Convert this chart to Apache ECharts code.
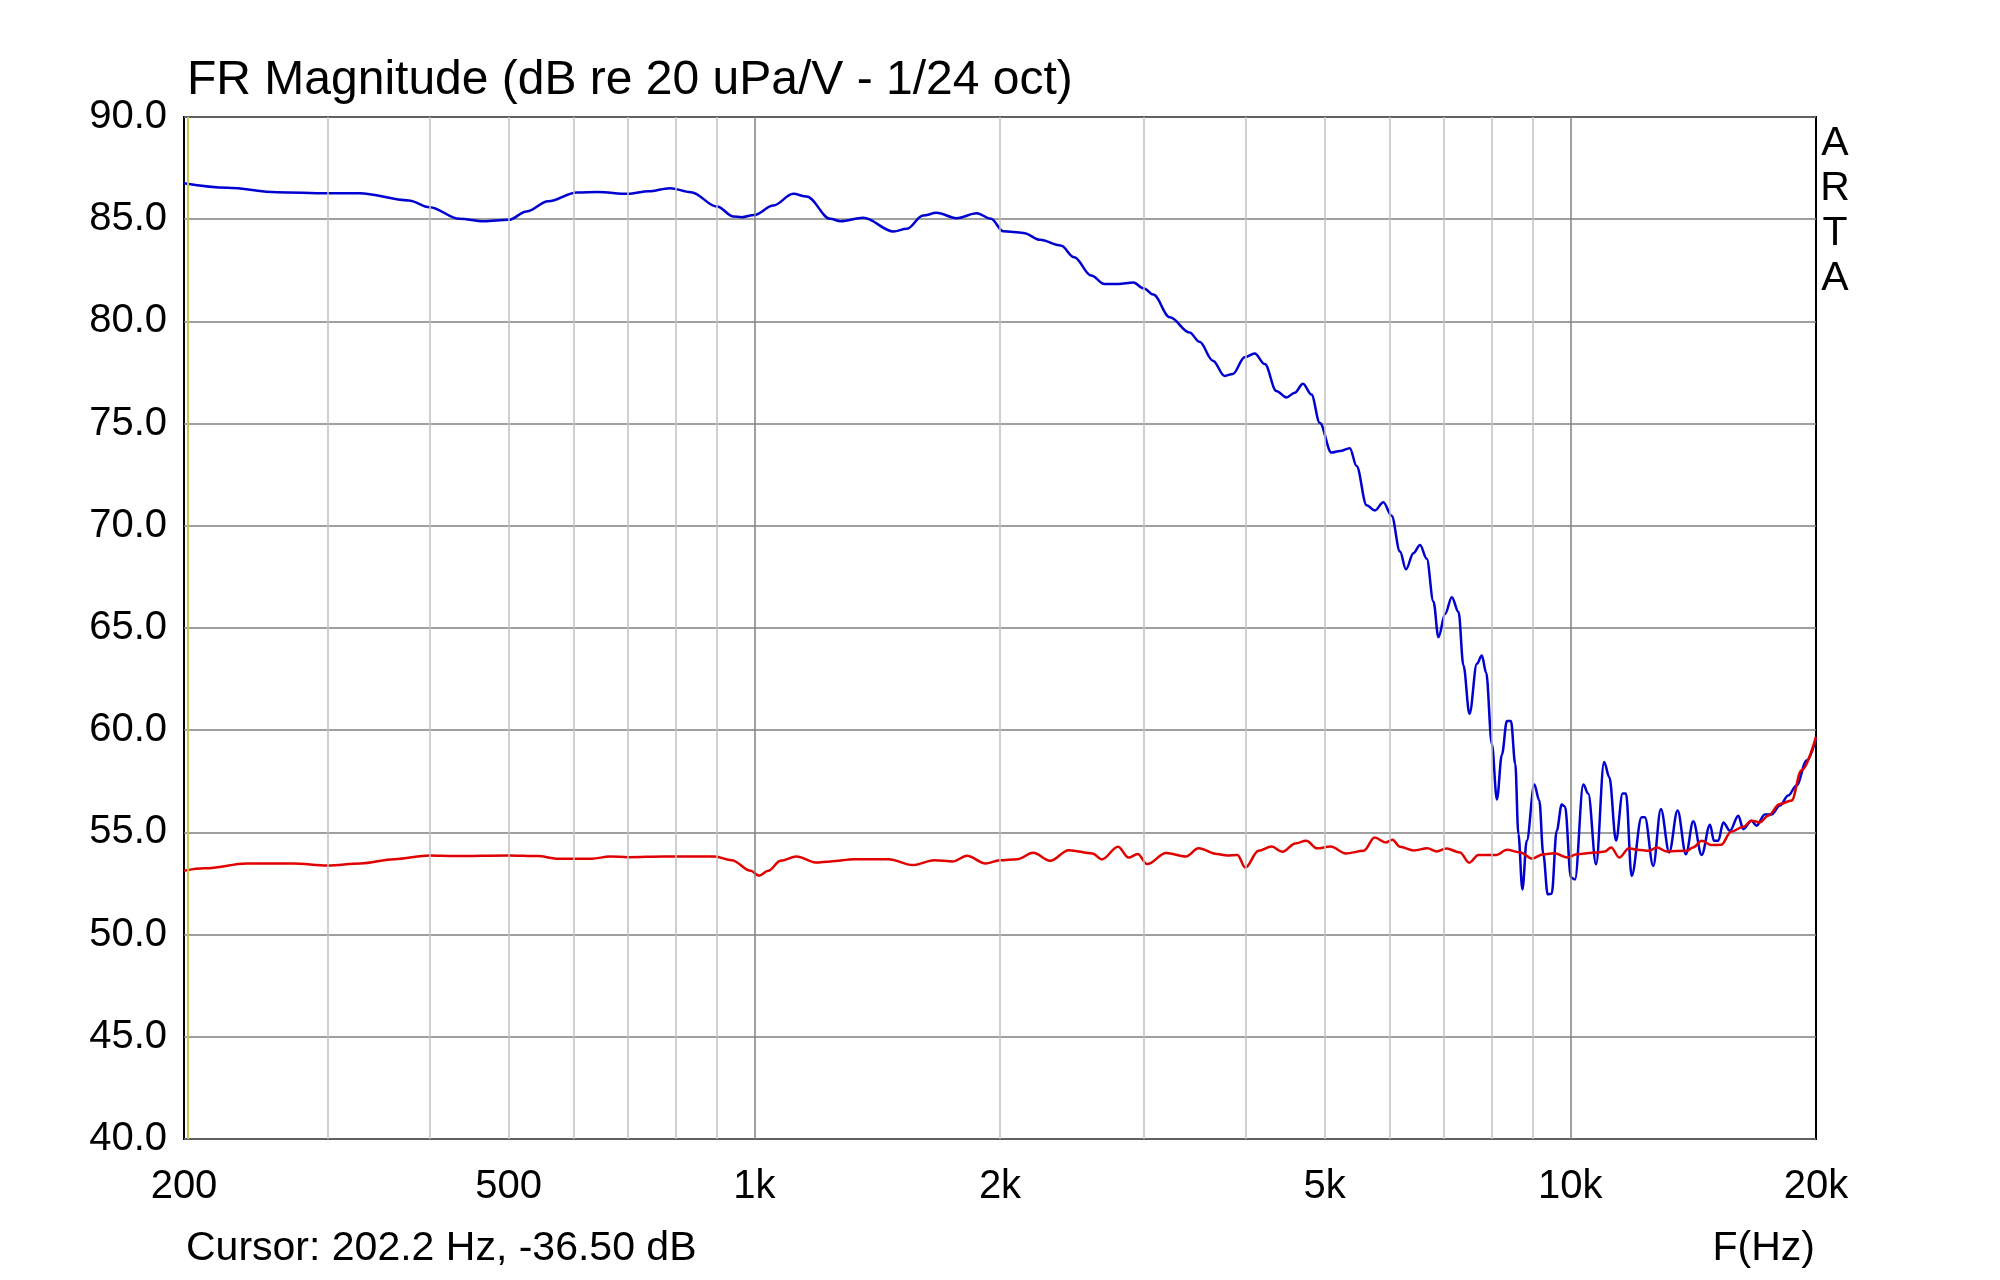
<!DOCTYPE html>
<html><head><meta charset="utf-8">
<script src="https://cdn.jsdelivr.net/npm/echarts@6/dist/echarts.min.js"></script>
<style>html,body{margin:0;padding:0;background:#fff}#c{width:2000px;height:1280px}</style>
</head><body><div id="c"></div>
<script>
const titleText = 'FR Magnitude (dB re 20 uPa/V - 1/24 oct)';
const cursorText = 'Cursor: 202.2 Hz, -36.50 dB';
const xAxisName = 'F(Hz)';
const sideText = ['A','R','T','A'];
const cursorFreq = 202.2;

const xTickValues = [200, 500, 1000, 2000, 5000, 10000, 20000];
const xMinorGrid = [300, 400, 500, 600, 700, 800, 900, 2000, 3000, 4000, 5000, 6000, 7000, 8000, 9000];
const xMajorGrid = [1000, 10000];

const blueFreq = [200,226,260,300,328,377,400,435,466,500,526,559,606,643,700,742,788,836,900,943,
  965,1000,1055,1116,1159,1239,1275,1360,1481,1537,1610,1672,1770,1873,1950,2018,2137,2239,2374,2466,
  2587,2687,2793,2914,3000,3082,3230,3414,3512,3647,3769,3858,3989,4104,4222,4362,4487,4594,4703,4816,
  4931,5096,5218,5367,5470,5627,5761,5899,6039,6183,6289,6421,6543,6668,6795,6892,7023,7157,7294,7396,
  7523,7681,7790,7886,8013,8128,8243,8361,8456,8560,8636,8734,8842,9033,9161,9265,9381,9487,9622,9759,
  9851,10016,10131,10372,10519,10752,10999,11163,11375,11589,11700,11887,12226,12340,12634,12910,13216,13534,13856,14144,
  14485,14830,14997,15181,15396,15690,16063,16290,16672,16909,17310,17639,18060,18490,18930,19480,20000];
const blueDb = [86.76,86.54,86.32,86.27,86.27,85.92,85.59,85.02,84.90,84.97,85.38,85.88,86.31,86.33,86.24,86.37,86.52,86.32,85.62,85.13,
  85.10,85.21,85.67,86.24,86.11,85.02,84.90,85.07,84.40,84.53,85.18,85.31,85.05,85.29,85.02,84.41,84.33,83.99,83.71,83.14,
  82.24,81.83,81.83,81.90,81.62,81.31,80.20,79.46,79.00,78.08,77.33,77.43,78.25,78.43,77.91,76.60,76.28,76.51,76.95,76.42,
  75.03,73.58,73.66,73.80,72.93,71.01,70.75,71.15,70.49,68.74,67.87,68.66,69.06,68.39,66.30,64.55,65.69,66.51,65.78,63.16,
  60.80,63.25,63.65,62.81,59.32,56.61,58.80,60.45,60.45,58.36,54.92,52.21,54.59,57.34,56.56,53.93,51.97,52.00,55.08,56.36,
  56.26,52.79,52.70,57.34,56.89,53.44,58.44,57.70,54.60,56.90,56.90,52.87,55.74,55.74,53.36,56.15,54.02,56.07,53.93,55.54,
  53.90,55.38,54.59,54.59,55.49,55.08,55.82,55.16,55.57,55.33,55.87,55.87,56.31,56.80,57.30,58.52,59.59];

const redFreq = [200,212,239,272,300,329,362,400,428,500,542,576,632,665,700,775,894,938,990,1013,
  1040,1077,1126,1189,1239,1326,1460,1564,1662,1752,1822,1920,2000,2100,2196,2304,2428,2596,2666,2791,
  2874,2950,3029,3196,3380,3502,3689,3797,3908,3997,4148,4305,4437,4601,4745,4895,5082,5309,5581,5757,
  5940,6053,6183,6430,6680,6860,7050,7323,7518,7715,8125,8357,8686,8975,9265,9560,9920,10180,10770,11020,
  11220,11480,11800,12080,12480,12770,13120,13880,14140,14485,14900,15300,15740,16290,16672,17070,17470,18060,18670,19190,20000];
const redDb = [53.12,53.24,53.48,53.48,53.38,53.48,53.69,53.87,53.84,53.87,53.84,53.71,53.71,53.82,53.79,53.82,53.82,53.64,53.12,52.88,
  53.12,53.61,53.82,53.53,53.58,53.69,53.69,53.40,53.64,53.58,53.86,53.48,53.64,53.69,54.00,53.61,54.13,53.97,53.68,54.30,
  53.77,53.94,53.45,53.99,53.82,54.22,53.94,53.87,53.90,53.28,54.10,54.31,54.05,54.46,54.59,54.22,54.31,53.97,54.10,54.75,
  54.51,54.64,54.30,54.12,54.22,54.07,54.21,54.02,53.52,53.90,53.90,54.15,54.02,53.72,53.93,53.98,53.77,53.93,54.02,54.07,
  54.26,53.77,54.23,54.15,54.10,54.26,54.07,54.10,54.26,54.59,54.38,54.39,55.03,55.28,55.57,55.49,55.82,56.39,56.56,58.03,59.67];

const FONT = '"Liberation Sans", Arial, sans-serif';
const chart = echarts.init(document.getElementById('c'), null, {renderer: 'canvas'});

const gridLines = [];
xMinorGrid.forEach(v => gridLines.push({xAxis: v, lineStyle: {color: '#c0c0c0', width: 1.5, type: 'solid'}}));
xMajorGrid.forEach(v => gridLines.push({xAxis: v, lineStyle: {color: '#808080', width: 1.5, type: 'solid'}}));
gridLines.push({xAxis: cursorFreq, lineStyle: {color: '#c8c850', width: 2, type: 'solid'}});

function fmtFreq(v) {
  return v >= 1000 ? (v / 1000) + 'k' : String(v);
}

const option = {
  animation: false,
  backgroundColor: '#ffffff',
  grid: {left: 184, right: 184, top: 117, bottom: 141, show: true, borderColor: '#000', borderWidth: 2, backgroundColor: 'transparent'},
  xAxis: {
    type: 'log', logBase: 10, min: 200, max: 20000,
    axisLine: {show: false}, axisTick: {show: false}, splitLine: {show: false}, minorSplitLine: {show: false},
    axisLabel: {
      customValues: xTickValues, showMinLabel: true, showMaxLabel: true,
      formatter: fmtFreq, fontFamily: FONT, fontSize: 40, color: '#000', margin: 28
    }
  },
  yAxis: {
    type: 'value', min: 40, max: 90, interval: 5,
    axisLine: {show: false}, axisTick: {show: false},
    splitLine: {show: true, lineStyle: {color: '#808080', width: 1.5}},
    axisLabel: {formatter: v => v.toFixed(1), fontFamily: FONT, fontSize: 40, color: '#000', margin: 17, padding: [13, 0, 0, 0]}
  },
  graphic: [
    {type: 'text', x: 187, y: 81, style: {text: titleText, font: '48px "Liberation Sans"', fill: '#000', verticalAlign: 'middle'}},
    {type: 'text', x: 186, y: 1249, style: {text: cursorText, font: '41px "Liberation Sans"', fill: '#000', verticalAlign: 'middle'}},
    {type: 'text', x: 1815, y: 1249, style: {text: xAxisName, font: '41px "Liberation Sans"', fill: '#000', align: 'right', verticalAlign: 'middle'}}
  ].concat(sideText.map((ch, i) => ({
    type: 'text', x: 1835, y: 144 + i * 45,
    style: {text: ch, font: '41px "Liberation Sans"', fill: '#000', align: 'center', verticalAlign: 'middle'}
  }))),
  series: [
    {
      type: 'line', z: 1, data: [[200, null]], symbol: 'none', silent: true,
      markLine: {silent: true, symbol: ['none', 'none'], label: {show: false}, animation: false, data: gridLines}
    },
    {
      type: 'line', z: 3, name: 'blue', data: blueFreq.map((f, i) => [f, blueDb[i]]),
      symbol: 'none', smooth: 0.35, smoothMonotone: 'x',
      lineStyle: {color: '#0000d0', width: 2.5}
    },
    {
      type: 'line', z: 4, name: 'red', data: redFreq.map((f, i) => [f, redDb[i]]),
      symbol: 'none', smooth: 0.35, smoothMonotone: 'x',
      lineStyle: {color: '#e00000', width: 2.5}
    }
  ]
};
chart.setOption(option);
</script>
</body></html>
